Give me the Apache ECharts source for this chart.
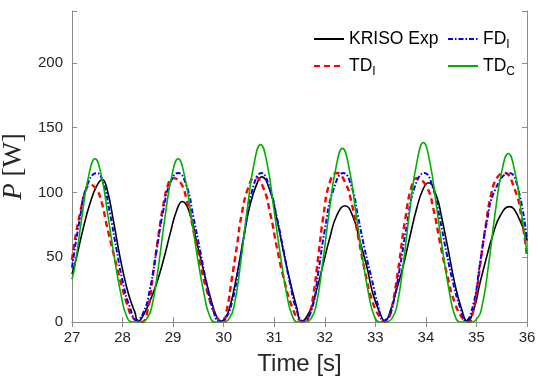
<!DOCTYPE html>
<html>
<head>
<meta charset="utf-8">
<script src="https://cdn.jsdelivr.net/npm/echarts@6/dist/echarts.min.js"></script>
<style>
html,body{margin:0;padding:0;background:#fff;}
#chart{width:538px;height:379px;}
</style>
</head>
<body>
<div id="chart"></div>
<script>
// ---- data ----
const xTicks = [27, 28, 29, 30, 31, 32, 33, 34, 35, 36];
const yTicks = [0, 50, 100, 150, 200];
const seriesNames = ['KRISO Exp', 'TD_I', 'FD_I', 'TD_C'];

const blackT = [27.0, 27.09, 27.22, 27.36, 27.49, 27.6, 27.69, 27.82, 27.95, 28.08, 28.18, 28.24, 28.31, 28.42, 28.54, 28.675, 28.81, 28.94, 29.07, 29.18, 29.33, 29.46, 29.60, 29.73, 29.86, 29.93, 30.03, 30.125, 30.26, 30.39, 30.52, 30.65, 30.75, 30.92, 31.05, 31.18, 31.31, 31.44, 31.54, 31.71, 31.84, 31.97, 32.10, 32.235, 32.40, 32.56, 32.69, 32.83, 32.95, 33.09, 33.19, 33.30, 33.42, 33.55, 33.685, 33.82, 33.95, 34.05, 34.21, 34.31, 34.44, 34.57, 34.71, 34.82, 34.95, 35.07, 35.20, 35.33, 35.47, 35.65, 35.83, 36.0];
const blackV = [37, 50, 72, 92, 105, 110, 103, 78, 50, 27, 14, 8, 0.5, 6, 16, 30, 48, 68, 86, 93, 84, 63, 40, 20, 4, 0.5, 3, 12, 36, 64, 90, 106, 112, 101, 80, 55, 32, 12, 0.5, 9, 25, 45, 65, 82, 89.7, 81, 63, 43, 22, 7, 0.5, 9, 25, 43, 66, 88, 103, 107.5, 97, 81, 56, 30, 9.5, 0.5, 10, 30, 50, 68, 82, 89, 81, 63];

const redT = [27.0, 27.06, 27.16, 27.26, 27.36, 27.49, 27.59, 27.69, 27.82, 27.95, 28.08, 28.21, 28.38, 28.5, 28.6, 28.7, 28.8, 28.9, 28.99, 29.14, 29.27, 29.40, 29.53, 29.70, 29.86, 29.98, 30.06, 30.16, 30.26, 30.36, 30.49, 30.62, 30.78, 30.92, 31.05, 31.18, 31.35, 31.51, 31.6, 31.68, 31.77, 31.87, 31.97, 32.10, 32.24, 32.40, 32.53, 32.66, 32.79, 32.95, 33.12, 33.2, 33.25, 33.32, 33.45, 33.59, 33.72, 33.82, 34.02, 34.15, 34.28, 34.41, 34.57, 34.74, 34.85, 34.92, 35.0, 35.07, 35.17, 35.30, 35.42, 35.55, 35.76, 35.89, 36.0];
const redV = [48, 64, 84, 100, 106, 102, 92, 74, 53, 33, 15, 3, 0, 10, 36, 64, 89, 106, 111, 108, 94, 71, 46, 20, 4, 0, 9, 33, 58, 84, 104, 112, 104, 84, 58, 35, 12, 1, 0, 4, 20, 50, 81, 108, 115, 108, 92, 66, 40, 15, 2, 0, 2, 9.5, 40, 79, 105, 111, 104, 87, 61, 38, 15, 2, 0, 6, 22, 43, 71, 100, 112, 115, 102, 81, 50];

const blueT = [27.0, 27.16, 27.29, 27.49, 27.62, 27.75, 27.88, 28.01, 28.14, 28.28, 28.42, 28.54, 28.675, 28.81, 28.94, 29.10, 29.27, 29.40, 29.53, 29.66, 29.79, 29.92, 30.04, 30.16, 30.29, 30.42, 30.55, 30.75, 30.92, 31.05, 31.18, 31.31, 31.44, 31.575, 31.74, 31.87, 32.0, 32.17, 32.37, 32.53, 32.66, 32.79, 32.93, 33.06, 33.16, 33.26, 33.355, 33.49, 33.62, 33.78, 33.97, 34.15, 34.28, 34.41, 34.54, 34.67, 34.79, 34.94, 35.07, 35.20, 35.37, 35.65, 35.83, 36.0];
const blueV = [42, 81, 104.5, 115, 107, 84, 56, 30, 12, 1.5, 8, 25, 56, 87, 107, 115, 104.5, 81, 56, 30, 9.5, 0.5, 3, 14.6, 40, 71, 99.5, 115, 102, 81, 56, 30, 9.5, 0.5, 9.5, 38, 71, 102, 115, 104.5, 81, 56, 33, 12, 1, 4, 14.6, 43, 74, 104.5, 115, 102, 79, 53, 30, 12, 1, 14, 45, 76, 102, 115, 102, 62];

const greenT = [27.0, 27.065, 27.195, 27.325, 27.455, 27.585, 27.715, 27.845, 27.975, 28.075, 28.19, 28.35, 28.48, 28.58, 28.71, 28.84, 28.97, 29.10, 29.23, 29.36, 29.49, 29.62, 29.72, 29.83, 29.98, 30.11, 30.21, 30.34, 30.47, 30.60, 30.73, 30.86, 30.99, 31.12, 31.25, 31.35, 31.46, 31.60, 31.73, 31.83, 31.96, 32.09, 32.22, 32.35, 32.48, 32.61, 32.74, 32.87, 32.97, 33.08, 33.20, 33.33, 33.43, 33.56, 33.69, 33.82, 33.95, 34.08, 34.21, 34.34, 34.47, 34.57, 34.68, 34.88, 35.01, 35.11, 35.24, 35.37, 35.50, 35.63, 35.76, 35.89, 36.0];
const greenV = [33, 45, 81, 112, 126, 112, 81, 48, 20, 5, 0, 0, 2.5, 12, 43, 81, 112, 126, 112, 81, 48, 20, 5, 0, 0, 2.7, 13, 47, 88, 122, 137, 122, 88, 52, 21, 5.5, 0, 0, 2.7, 13, 46, 86, 119, 134, 119, 86, 51, 21, 5.4, 0, 0, 2.8, 13, 47, 89, 123, 138.5, 123, 89, 53, 22, 5.5, 0, 0, 2.6, 12, 44, 84, 116, 130, 116, 84, 53];

// ---- build chart ----
function zip(t, v) { return t.map((x, i) => [x, v[i]]); }

const axisGray = '#8c8c8c';
const textCol = '#262626';
const font = 'Liberation Sans, Arial, Helvetica, sans-serif';

const legendRich = {
  m: { fontSize: 17.5, fontFamily: font, color: '#000' },
  s: { fontSize: 12, fontFamily: font, color: '#000', padding: [11, 0, 0, 0] }
};
function legendFmt(name) {
  const i = name.indexOf('_');
  if (i < 0) return '{m|' + name + '}';
  return '{m|' + name.slice(0, i) + '}{s|' + name.slice(i + 1) + '}';
}
function mkLegend(name, left, top) {
  return {
    data: [name], left: left, top: top, orient: 'horizontal',
    itemWidth: 30, itemHeight: 14, itemGap: 0, padding: 0,
    itemStyle: { opacity: 0, borderWidth: 0 },
    formatter: legendFmt, textStyle: { rich: legendRich, padding: [0, 0, 0, 0] },
    selectedMode: false
  };
}

const chart = echarts.init(document.getElementById('chart'), null, { renderer: 'canvas' });
chart.setOption({
  backgroundColor: '#fff',
  animation: false,
  grid: { left: 72, right: 11, top: 11, bottom: 57, containLabel: false, outerBoundsMode: 'none' },
  legend: [
    mkLegend('KRISO Exp', 313, 30),
    mkLegend('FD_I', 447, 30),
    mkLegend('TD_I', 313, 57),
    mkLegend('TD_C', 447, 57)
  ],
  xAxis: [{
    type: 'value', min: xTicks[0], max: xTicks[xTicks.length - 1], interval: 1,
    name: 'Time [s]', nameLocation: 'middle', nameGap: 30,
    nameTextStyle: { fontSize: 24, color: textCol, fontFamily: font },
    axisLine: { show: true, lineStyle: { color: axisGray, width: 1 } },
    axisTick: { show: true, inside: true, length: 5, lineStyle: { color: axisGray } },
    axisLabel: { fontSize: 15, color: textCol, fontFamily: font, margin: 8 },
    splitLine: { show: false }
  }, {
    type: 'value', position: 'top', min: xTicks[0], max: xTicks[xTicks.length - 1], interval: 1,
    axisLine: { show: true, lineStyle: { color: axisGray, width: 1 } },
    axisTick: { show: true, inside: true, length: 5, lineStyle: { color: axisGray } },
    axisLabel: { show: false }, splitLine: { show: false }
  }],
  yAxis: [{
    type: 'value', min: 0, max: 240, interval: 50,
    name: '{i|P} [W]', nameLocation: 'middle', nameGap: 37,
    nameTextStyle: {
      fontSize: 27, color: textCol, fontFamily: 'Liberation Serif, DejaVu Serif, serif',
      rich: { i: { fontSize: 27, fontStyle: 'italic', color: textCol, fontFamily: 'Liberation Serif, DejaVu Serif, serif' } }
    },
    axisLine: { show: true, lineStyle: { color: axisGray, width: 1 } },
    axisTick: { show: true, inside: true, length: 5, lineStyle: { color: axisGray } },
    axisLabel: { fontSize: 15, color: textCol, fontFamily: font, margin: 9,
      formatter: v => (yTicks.indexOf(v) >= 0 ? String(v) : '') },
    splitLine: { show: false }
  }, {
    type: 'value', position: 'right', min: 0, max: 240, interval: 50,
    axisLine: { show: true, lineStyle: { color: axisGray, width: 1 } },
    axisTick: { show: true, inside: true, length: 5, lineStyle: { color: axisGray } },
    axisLabel: { show: false }, splitLine: { show: false }
  }],
  series: [
    { name: seriesNames[0], type: 'line', data: zip(blackT, blackV), smooth: 0.5, symbol: 'none',
      lineStyle: { color: '#000000', width: 1.6, type: 'solid' }, itemStyle: { color: '#000000' } },
    { name: seriesNames[1], type: 'line', data: zip(redT, redV), smooth: 0.5, symbol: 'none',
      lineStyle: { color: '#ff0000', width: 2.4, type: [6, 4] }, itemStyle: { color: '#ff0000' } },
    { name: seriesNames[2], type: 'line', data: zip(blueT, blueV), smooth: 0.5, symbol: 'none',
      lineStyle: { color: '#0000ff', width: 2, type: [5, 2, 1.5, 2] }, itemStyle: { color: '#0000ff' } },
    { name: seriesNames[3], type: 'line', data: zip(greenT, greenV), smooth: 0.5, symbol: 'none',
      lineStyle: { color: '#00b000', width: 1.6, type: 'solid' }, itemStyle: { color: '#00b000' } }
  ]
});
</script>
</body>
</html>
